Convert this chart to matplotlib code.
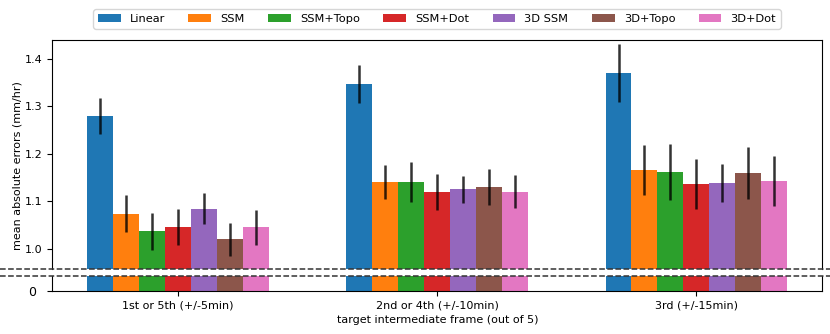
import matplotlib.pyplot as plt
from matplotlib.lines import Line2D
import numpy as np

# data
groups = ["1st or 5th (+/-5min)", "2nd or 4th (+/-10min)", "3rd (+/-15min)"]
methods = ["Linear", "SSM", "SSM+Topo", "SSM+Dot", "3D SSM", "3D+Topo", "3D+Dot"]
colors = ["#1f77b4", "#ff7f0e", "#2ca02c", "#d62728", "#9467bd", "#8c564b", "#e377c2"]

linear = [1.279, 1.347, 1.371]
ssm = [1.074, 1.140, 1.166]
ssm_topo = [1.037, 1.140, 1.162]
ssm_dot = [1.045, 1.120, 1.137]
ssm3d = [1.084, 1.125, 1.139]
topo3d = [1.020, 1.130, 1.159]
dot3d = [1.045, 1.120, 1.142]

linear_err = [0.038, 0.040, 0.061]
ssm_err = [0.039, 0.036, 0.052]
ssm_topo_err = [0.039, 0.042, 0.059]
ssm_dot_err = [0.038, 0.038, 0.053]
ssm3d_err = [0.033, 0.028, 0.040]
topo3d_err = [0.035, 0.037, 0.055]
dot3d_err = [0.037, 0.035, 0.053]

values = [linear, ssm, ssm_topo, ssm_dot, ssm3d, topo3d, dot3d]
errors = [linear_err, ssm_err, ssm_topo_err, ssm_dot_err, ssm3d_err, topo3d_err, dot3d_err]

fig = plt.figure(figsize=(8.3, 3.34), dpi=100)
ax = fig.add_axes([0.0627, 0.1946, 0.9277, 0.6856])
ax2 = fig.add_axes([0.0627, 0.1287, 0.9277, 0.0450])

x = np.arange(len(groups))
w = 0.1
for i, (name, v, e, c) in enumerate(zip(methods, values, errors, colors)):
    pos = x + (i - 3) * w
    for a in (ax, ax2):
        a.bar(pos, v, w, yerr=e, color=c, label=name if a is ax else None,
              error_kw=dict(ecolor="black", elinewidth=1.8, alpha=0.8, capsize=0))

ax.set_ylim(0.957, 1.44)
ax2.set_ylim(0, 0.04)
ax.set_yticks([1.0, 1.1, 1.2, 1.3, 1.4])
ax2.set_yticks([0])
ax2.set_yticklabels(["0"])
ax.spines["bottom"].set_visible(False)
ax2.spines["top"].set_visible(False)
ax.tick_params(axis="x", bottom=False, labelbottom=False)
ax2.set_xticks(x)
ax2.set_xticklabels(groups)
ax.set_xlim(ax2.get_xlim())
for a in (ax, ax2):
    a.tick_params(labelsize=8)
ax2.tick_params(axis="y", pad=8, labelsize=9)

# break markers
for yy in (0.1946, 0.1737):
    fig.add_artist(Line2D([0, 1], [yy, yy], transform=fig.transFigure,
                          color="#333333", linestyle="--", linewidth=1.1))

fig.text(0.021, 0.503, "mean absolute errors (mm/hr)", rotation=90,
         ha="center", va="center", fontsize=8)
fig.text(0.527, 0.042, "target intermediate frame (out of 5)",
         ha="center", va="center", fontsize=8)

ax.legend(loc="lower center", bbox_to_anchor=(0.5, 1.025), ncol=7, fontsize=8.2,
          handlelength=2.0, columnspacing=2.05)

fig.savefig("out.png", dpi=100)
